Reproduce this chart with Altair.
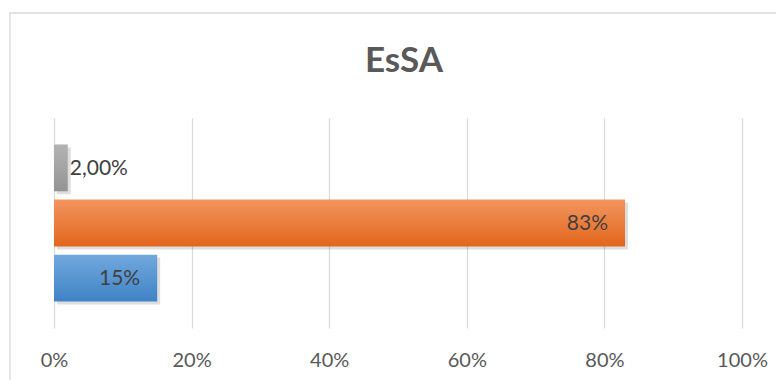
import altair as alt
import pandas as pd

title_text = "EsSA"
categories = ["Categoria 3", "Categoria 2", "Categoria 1"]   # top to bottom
values = [0.02, 0.83, 0.15]
labels = ["2,00%", "83%", "15%"]
label_inside = [False, True, True]
grad_top = ["#b4b4b4", "#f29560", "#72a8de"]
grad_bottom = ["#939393", "#e3661b", "#3f83c6"]
x_ticks = [0, 0.2, 0.4, 0.6, 0.8, 1.0]

df = pd.DataFrame({
    "cat": categories,
    "value": values,
    "label": labels,
    "inside": label_inside,
})

FONT = "Lato"
y_enc = alt.Y("cat:N", sort=categories, axis=None,
              scale=alt.Scale(paddingInner=0.15, paddingOuter=0.48))
x_enc = alt.X("value:Q", scale=alt.Scale(domain=[0, 1]),
              axis=alt.Axis(values=x_ticks, format=".0%", title=None,
                            domain=False, ticks=False, grid=True,
                            gridColor="#d9d9d9", gridWidth=1.3,
                            labelFont=FONT, labelFontSize=20, labelFlush=False,
                            labelColor="#595959", labelPadding=22))

base = alt.Chart(df)

frame = base.mark_rect(fill=None, stroke="#d9d9d9", strokeWidth=1.3).encode(
    x=alt.value(-44), x2=alt.value(800), y=alt.value(-105), y2=alt.value(320)
).transform_filter(alt.datum.cat == categories[0])

title = base.mark_text(font=FONT, fontSize=35, fontWeight="bold", color="#595959",
                       align="center", baseline="alphabetic").encode(
    x=alt.value(350), y=alt.value(-46), text=alt.value(title_text)
).transform_filter(alt.datum.cat == categories[0])

shadow = base.mark_bar(color="#000000", opacity=0.13, xOffset=3, yOffset=3).encode(
    x=x_enc, y=y_enc)

layers = [frame, title, shadow]
for c, t, b in zip(categories, grad_top, grad_bottom):
    grad = alt.Gradient(gradient="linear",
                        stops=[alt.GradientStop(color=t, offset=0),
                               alt.GradientStop(color=b, offset=1)],
                        x1=0, x2=0, y1=0, y2=1)
    layers.append(base.mark_bar(color=grad).encode(x=x_enc, y=y_enc)
                  .transform_filter(alt.datum.cat == c))

txt_in = base.mark_text(align="right", baseline="middle", dx=-17, dy=1,
                        font=FONT, fontSize=21, color="#404040").encode(
    x=x_enc, y=y_enc, text="label:N").transform_filter(alt.datum.inside == True)
txt_out = base.mark_text(align="left", baseline="middle", dx=2, dy=1,
                         font=FONT, fontSize=21, color="#404040").encode(
    x=x_enc, y=y_enc, text="label:N").transform_filter(alt.datum.inside == False)
layers += [txt_in, txt_out]

chart = alt.layer(*layers).properties(
    width=688, height=210,
    background="white",
    autosize=alt.AutoSizeParams(type="none"),
    padding={"left": 46, "top": 110, "right": 34, "bottom": 52},
).configure_view(stroke=None)

chart.save("out.html", embed_options={"renderer": "svg", "actions": False})
